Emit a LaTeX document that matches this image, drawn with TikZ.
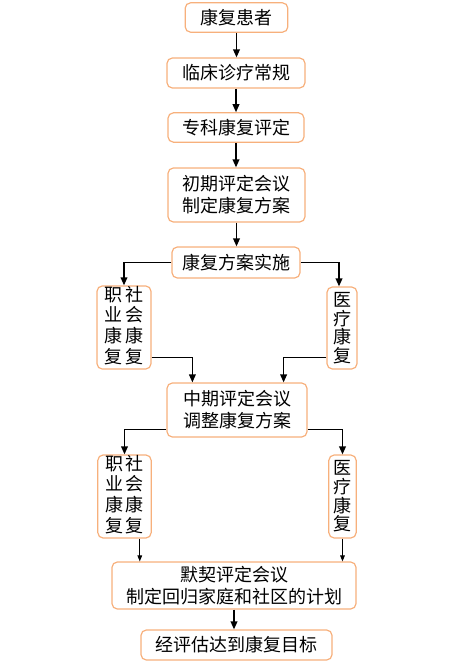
\documentclass[tikz,border=0pt]{standalone}
\usepackage{fontspec}
\newfontfamily\cjk{Noto Sans CJK SC}
\usetikzlibrary{arrows.meta, positioning, calc}
\definecolor{boxLine}{HTML}{F7B07C}

\begin{document}
\begin{tikzpicture}[x=0.75pt, y=-0.75pt,
    box/.style={draw=boxLine, line width=0.9pt, rounded corners=4pt, fill=white, inner sep=0pt,
      align=center, font=\cjk\fontsize{13.5}{16.5}\selectfont},
    vbox/.style={box, font=\cjk\fontsize{13.5}{14}\selectfont},
    flow/.style={-{Triangle[length=6pt,width=5pt]}, line width=1.1pt},
    thinflow/.style={-{Triangle[length=4.5pt,width=3.5pt]}, line width=0.7pt}]
    \useasboundingbox (0,0) rectangle (470,663);
    % main column
    \node[box, minimum width=77pt, minimum height=22pt] (patient) at (236.5,17.5) {康复患者};
    \node[box, minimum width=103.5pt, minimum height=22.5pt] (clinic) at (236,73) {临床诊疗常规};
    \node[box, minimum width=102pt, minimum height=22pt] (assess) at (236,127.5) {专科康复评定};
    \node[box, minimum width=102.75pt, minimum height=40.5pt] (early) at (236.5,195) {初期评定会议\\制定康复方案};
    \node[box, minimum width=96pt, minimum height=23.25pt] (plan) at (236,262.5) {康复方案实施};
    \node[vbox, minimum width=40.5pt, minimum height=62.25pt] (social1) at (124,327.5)
      {\begin{tabular}{@{}c@{\hspace{2pt}}c@{}}职&社\\业&会\\康&康\\复&复\end{tabular}};
    \node[vbox, minimum width=22.5pt, minimum height=61.5pt] (medical1) at (342,328) {医\\疗\\康\\复};
    \node[box, minimum width=105pt, minimum height=40.5pt] (mid) at (237,410) {中期评定会议\\调整康复方案};
    \node[vbox, minimum width=40pt, minimum height=62.25pt] (social2) at (124.5,496.5)
      {\begin{tabular}{@{}c@{\hspace{2pt}}c@{}}职&社\\业&会\\康&康\\复&复\end{tabular}};
    \node[vbox, minimum width=20.5pt, minimum height=62.25pt] (medical2) at (342.5,496.5) {医\\疗\\康\\复};
    \node[box, minimum width=183pt, minimum height=35.25pt] (final) at (234,585.5) {默契评定会议\\制定回归家庭和社区的计划};
    \node[box, minimum width=143.25pt, minimum height=22.5pt] (goal) at (236.5,645) {经评估达到康复目标};

    % connectors
    \draw[flow] (patient.south) -- (patient.south |- clinic.north);
    \draw[flow] (clinic.south) -- (clinic.south |- assess.north);
    \draw[flow] (assess.south) -- (assess.south |- early.north);
    \draw[flow] (early.south) -- (early.south |- plan.north);
    \draw[flow] (plan.west) -| (social1.north);
    \draw[flow] (plan.east) -| ($(medical1.north)+(-3,0)$);
    \coordinate (s1out) at ($(social1.south east)+(0,-12)$);
    \coordinate (m1out) at ($(medical1.south west)+(0,-12)$);
    \draw[flow] (s1out) -| ($(mid.north west)+(26,0)$);
    \draw[flow] (m1out) -| ($(mid.north east)+(-24,0)$);
    \coordinate (midL) at ($(mid.south west)+(0,-8)$);
    \coordinate (midR) at ($(mid.south east)+(0,-8)$);
    \draw[flow] (midL) -| (social2.north);
    \draw[flow] (midR) -| (medical2.north);
    \coordinate (s2out) at ($(social2.south east)+(-12,0)$);
    \draw[thinflow] (s2out) -- (s2out |- final.north);
    \draw[thinflow] (medical2.south) -- (medical2.south |- final.north);
    \draw[flow] (final.south) -- (final.south |- goal.north);
\end{tikzpicture}
\end{document}
